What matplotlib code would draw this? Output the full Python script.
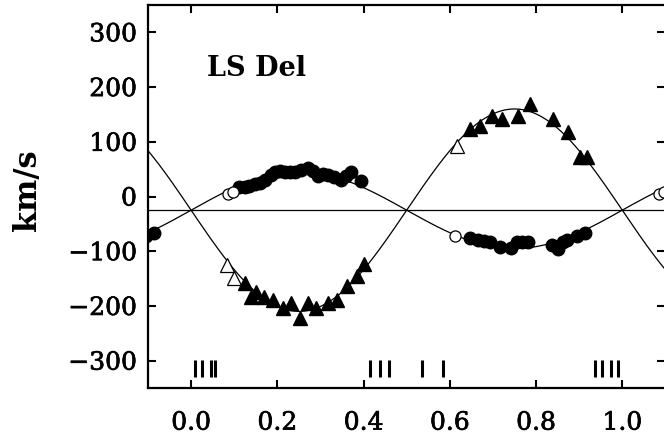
"""Radial velocity curve of LS Del."""

import matplotlib

matplotlib.use("Agg")
import matplotlib.patheffects as pe
import matplotlib.pyplot as plt
import numpy as np

SERIF = "DejaVu Serif"
plt.rcParams["font.family"] = [SERIF]

# orbital solution
GAMMA = -25.0
K1 = 70.0
K2 = 185.0

# primary (circles)
prim_phase = [0.112, 0.125, 0.135, 0.148, 0.160, 0.171, 0.185, 0.194, 0.205, 0.217,
              0.230, 0.241, 0.256, 0.271, 0.283, 0.294, 0.305, 0.317, 0.332, 0.347,
              0.360, 0.371, 0.394,
              0.647, 0.666, 0.680, 0.693, 0.716, 0.742, 0.755, 0.768, 0.781, 0.837,
              0.850, 0.862, 0.872, 0.895, 0.913]
prim_vel = [17, 18, 19, 22, 25, 31, 40, 44, 46, 44,
            45, 44, 48, 53, 46, 38, 42, 40, 36, 31,
            38, 44, 28,
            -75, -79, -81, -84, -92, -94, -83, -84, -84, -88,
            -96, -84, -79, -73, -66]
prim_open_phase = [0.085, 0.097, 0.612]
prim_open_vel = [4, 9, -72]

# secondary (triangles)
sec_phase = [0.124, 0.139, 0.150, 0.170, 0.190, 0.213, 0.232, 0.252, 0.271, 0.290,
             0.317, 0.338, 0.362, 0.385, 0.400,
             0.647, 0.670, 0.697, 0.720, 0.758, 0.786, 0.840, 0.875, 0.902, 0.918]
sec_vel = [-158, -183, -174, -183, -189, -204, -195, -222, -195, -204,
           -195, -190, -163, -145, -123,
           123, 128, 147, 141, 147, 169, 141, 117, 73, 73]
sec_open_phase = [0.083, 0.099, 0.617]
sec_open_vel = [-125, -149, 92]

# phases of the spectra
spec_phase = [0.008, 0.026, 0.047, 0.055, 0.414, 0.439, 0.458, 0.535, 0.584,
              0.936, 0.953, 0.974, 0.990]

x_ticks = [0.0, 0.2, 0.4, 0.6, 0.8, 1.0]
x_labels = ["0.0", "0.2", "0.4", "0.6", "0.8", "1.0"]
y_ticks = [-300, -200, -100, 0, 100, 200, 300]
y_labels = ["\u2212300", "\u2212200", "\u2212100", "0", "100", "200", "300"]

XLIM = (-0.1, 1.1)
YLIM = (-350, 350)


def wrap(phase, vel):
    # repeat points one cycle either side so the plot covers -0.1..1.1
    p = np.asarray(phase, dtype=float)
    v = np.asarray(vel, dtype=float)
    return np.concatenate([p - 1, p, p + 1]), np.concatenate([v, v, v])


fig = plt.figure(figsize=(6.64, 4.42), dpi=100)
ax = fig.add_axes([148 / 664, 54 / 442, 517.4 / 664, 383 / 442])

phi = np.linspace(XLIM[0], XLIM[1], 600)
ax.axhline(GAMMA, color="black", lw=0.9, zorder=1)
ax.plot(phi, GAMMA + K1 * np.sin(2 * np.pi * phi), color="black", lw=0.9, zorder=1)
ax.plot(phi, GAMMA - K2 * np.sin(2 * np.pi * phi), color="black", lw=0.9, zorder=1)

# only the primary is repeated outside 0..1
x, y = wrap(prim_phase, prim_vel)
ax.plot(x, y, "o", ms=9, color="black", zorder=3)
x, y = wrap(prim_open_phase, prim_open_vel)
ax.plot(x, y, "o", ms=8, mfc="white", mec="black", mew=0.9, zorder=3)
ax.plot(sec_phase, sec_vel, "^", ms=10.5, color="black", zorder=3)
ax.plot(sec_open_phase, sec_open_vel, "^", ms=10.5, mfc="white", mec="black",
        mew=0.9, zorder=3)

ax.vlines(spec_phase, -330, -298, color="black", lw=2.2)

ax.text(0.037, 220, "LS Del", fontsize=19.5, fontweight="bold", family=SERIF)

ax.set_xlim(*XLIM)
ax.set_ylim(*YLIM)
ax.set_xticks(x_ticks)
ax.set_yticks(y_ticks)
stroke = [pe.withStroke(linewidth=0.5, foreground="black")]
ax.set_xticklabels(x_labels, family=SERIF, path_effects=stroke)
ax.set_yticklabels(y_labels, family=SERIF, path_effects=stroke)
ax.tick_params(direction="in", length=6, width=1.5, labelsize=18,
               top=True, right=True)
ax.tick_params(axis="x", pad=17)
ax.tick_params(axis="y", pad=8)
for s in ax.spines.values():
    s.set_linewidth(1.6)

ax.set_ylabel("km/s", fontsize=22, fontweight="bold", family=SERIF)
ax.yaxis.set_label_coords(-0.203, 0.517)

fig.savefig("out.png", dpi=100)
